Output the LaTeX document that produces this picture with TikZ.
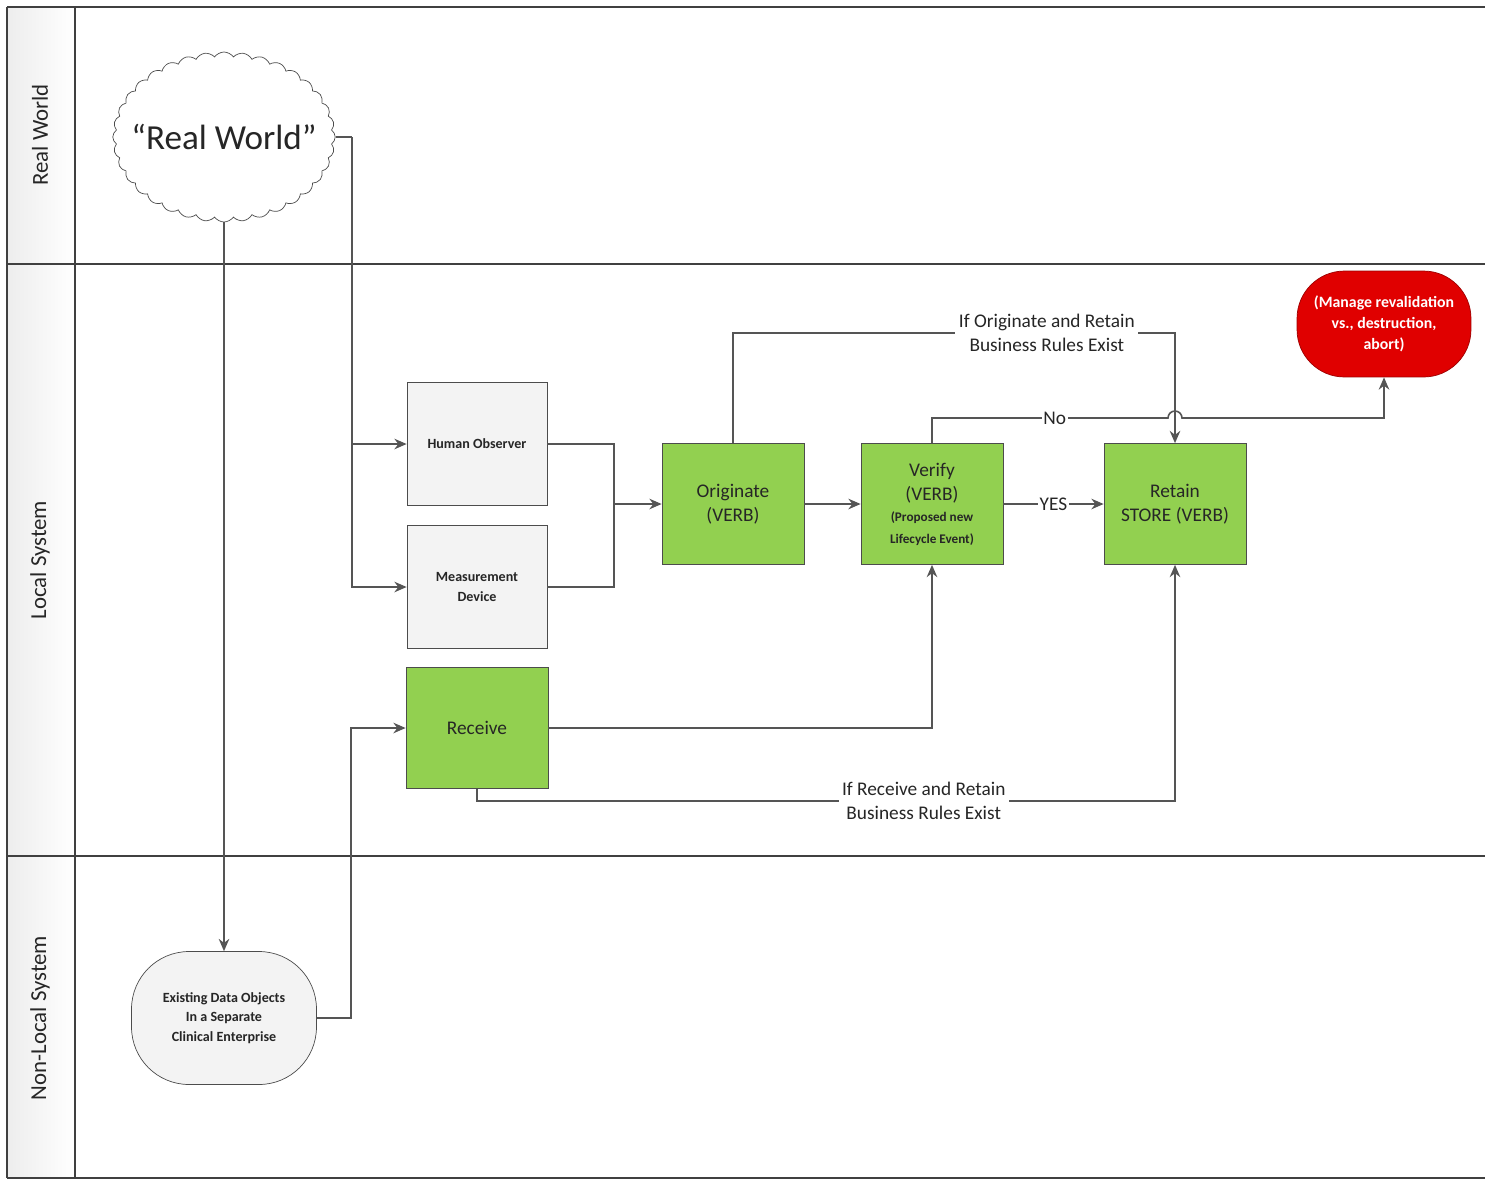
\documentclass[tikz,border=0pt]{standalone}
\usepackage{fontspec}
\setmainfont{Carlito}
\usetikzlibrary{calc,shapes,arrows.meta}
\definecolor{VerbGreen}{RGB}{146,208,80}
\definecolor{LineGray}{RGB}{85,85,85}
\definecolor{AbortRed}{RGB}{224,0,0}
\definecolor{BoxGray}{RGB}{243,243,243}

\begin{document}
\begin{tikzpicture}[x=0.02cm, y=-0.02cm]
				\tikzstyle{every node}=[text=black!85];
				\tikzstyle{lanelabel}=[rotate=90, font=\fontsize{13}{15}\selectfont];
				\tikzstyle{greybox}=[draw=black!70, fill=BoxGray, minimum width=2.8cm, minimum height=2.46cm, align=center, font=\bfseries\fontsize{8}{11}\selectfont];
				\tikzstyle{verbbox}=[draw=black!70, fill=VerbGreen, minimum width=2.84cm, minimum height=2.42cm, align=center, font=\fontsize{11}{14}\selectfont];
				\tikzstyle{flow}=[->, >={Stealth[length=7pt, width=6pt]}, draw=LineGray, line width=0.9pt];
				\tikzstyle{rulelabel}=[fill=white, align=center, inner sep=2pt, font=\fontsize{11}{14}\selectfont];
				\useasboundingbox (0,0) rectangle (1485,1181);
				% swimlanes
				\shade[left color=gray!14, right color=white] (7,7) rectangle (75,1178);
				\draw[black!75, line width=1pt] (7,7) -- (1485,7);
				\draw[black!75, line width=1pt] (7,264) -- (1485,264);
				\draw[black!75, line width=1pt] (7,856) -- (1485,856);
				\draw[black!75, line width=1pt] (7,1178) -- (1485,1178);
				\draw[black!75, line width=1pt] (7,7) -- (7,1178);
				\draw[black!75, line width=1pt] (75,7) -- (75,1178);
				\node [lanelabel] (lreal) at (40,135) {Real World};
				\node [lanelabel] (llocal) at (40,560) {Local System};
				\node [lanelabel] (lnonlocal) at (40,1018) {Non-Local System};
				% nodes
				\node [cloud, draw=black!70, fill=white, cloud puffs=36, cloud puff arc=110, minimum width=4.45cm, minimum height=3.4cm, inner sep=0pt, label={[font=\fontsize{20}{22}\selectfont]center:``Real World''}] (world) at (224,137) {};
				\node [greybox] (human) at (477,444) {Human Observer};
				\node [greybox] (measure) at (477,587) {Measurement\\Device};
				\node [verbbox] (receive) at (477,728) {Receive};
				\node [verbbox] (originate) at (733,504) {Originate\\(VERB)};
				\node [verbbox] (verify) at (932,504) {Verify\\(VERB)\\[-2pt]{\bfseries\fontsize{7.5}{11}\selectfont (Proposed new}\\[-2pt]{\bfseries\fontsize{7.5}{11}\selectfont Lifecycle Event)}};
				\node [verbbox] (retain) at (1175,504) {Retain\\STORE (VERB)};
				\node [rectangle, rounded corners=0.95cm, draw=AbortRed!70!black, fill=AbortRed, minimum width=3.48cm, minimum height=2.12cm, align=center, text=white, font=\bfseries\fontsize{9}{12}\selectfont] (abort) at (1384,324) {(Manage revalidation\\vs., destruction,\\abort)};
				\node [rectangle, rounded corners=1.15cm, draw=black!70, fill=BoxGray, minimum width=3.7cm, minimum height=2.66cm, align=center, font=\bfseries\fontsize{8}{11}\selectfont] (existing) at (224,1018) {Existing Data Objects\\In a Separate\\Clinical Enterprise};
				% connectors
				\coordinate (rwbus) at (352,137);
				\coordinate (merge) at (614,504);
				\coordinate (orcorner) at (733,333);
				\coordinate (nocorner) at (932,418);
				\coordinate (nohop) at (1175,418);
				\draw[flow] (world.south) -- (existing.north);
				\draw[LineGray, line width=0.9pt] (world.east) -- (rwbus);
				\draw[flow] (rwbus) |- (human.west);
				\draw[flow] (rwbus) |- (measure.west);
				\draw[flow] (existing.east) -- ++(34,0) |- (receive.west);
				\draw[LineGray, line width=0.9pt] (human.east) -| (merge);
				\draw[LineGray, line width=0.9pt] (measure.east) -| (merge);
				\draw[flow] (merge) -- (originate.west);
				\draw[flow] (originate.east) -- (verify.west);
				\draw[flow] (verify.east) -- node[rulelabel, inner sep=1pt] (yes) {YES} (retain.west);
				\draw[flow] (originate.north) -- (orcorner) -- node[rulelabel, pos=0.71] (orrule) {If Originate and Retain\\Business Rules Exist} (orcorner -| retain.north) -- (retain.north);
				\draw[flow] (verify.north) -- (nocorner) -- node[rulelabel, inner sep=1pt, pos=0.52] (no) {No} ($(nohop)+(-7,0)$) arc[start angle=180, end angle=0, radius=0.14cm] -| (abort.south);
				\draw[flow] (receive.east) -| (verify.south);
				\draw[flow] (receive.south) -- ++(0,12) -- node[rulelabel, pos=0.64] (rcrule) {If Receive and Retain\\Business Rules Exist} ($(receive.south)+(698,12)$) -- (retain.south);
			\end{tikzpicture}
\end{document}
